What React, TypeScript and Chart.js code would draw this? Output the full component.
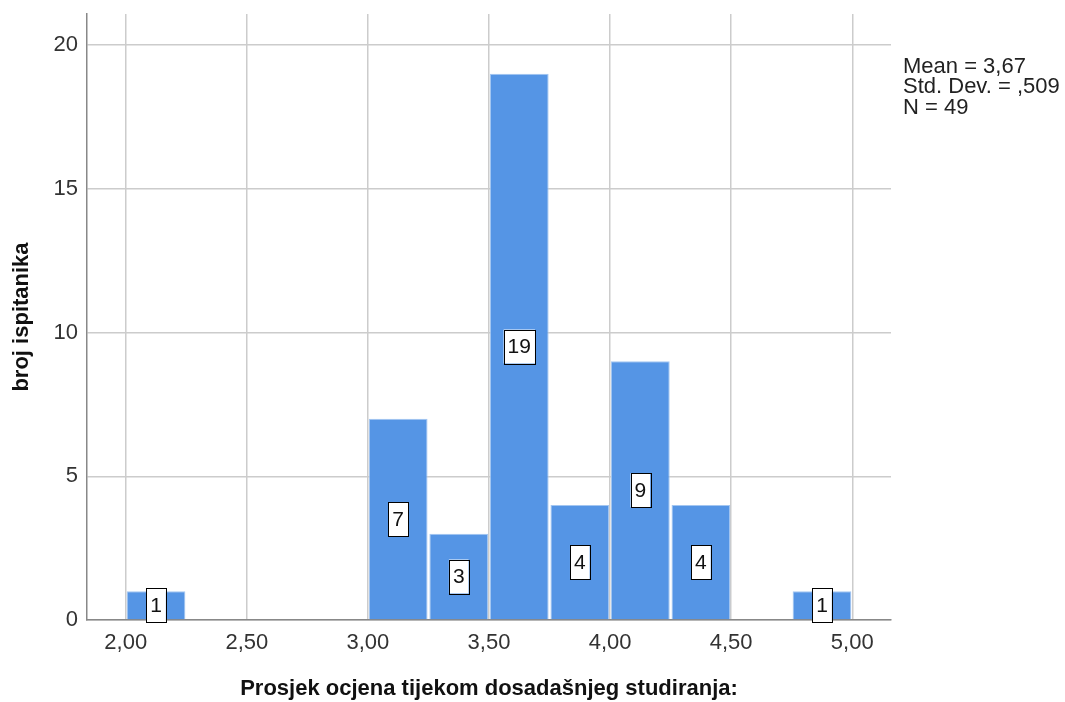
import React, { useEffect, useRef } from "react";
import { Chart, registerables } from "chart.js";

Chart.register(...registerables);

const binStarts = [2.0, 2.25, 2.5, 2.75, 3.0, 3.25, 3.5, 3.75, 4.0, 4.25, 4.5, 4.75];
const binWidth = 0.25;
const counts = [1, 0, 0, 0, 7, 3, 19, 4, 9, 4, 0, 1];
const xTicks = [2.0, 2.5, 3.0, 3.5, 4.0, 4.5, 5.0];
const yTicks = [0, 5, 10, 15, 20];
const statsLines = ["Mean = 3,67", "Std. Dev. = ,509", "N = 49"];
const xTitle = "Prosjek ocjena tijekom dosadašnjeg studiranja:";
const yTitle = "broj ispitanika";

const FONT = "'Liberation Sans', Arial, sans-serif";

const barLabelPlugin = {
  id: "barLabels",
  afterDatasetsDraw(chart: any) {
    const ctx = chart.ctx;
    const meta = chart.getDatasetMeta(0);
    const ds = chart.data.datasets[0];
    ctx.save();
    ctx.font = `21px ${FONT}`;
    ctx.textAlign = "center";
    ctx.textBaseline = "middle";
    meta.data.forEach((el: any, i: number) => {
      const v = ds.data[i].y;
      const txt = String(v);
      const cx = el.x;
      const cy = (el.y + el.base) / 2;
      const w = ctx.measureText(txt).width + 8;
      const h = 34;
      ctx.fillStyle = "#ffffff";
      ctx.fillRect(cx - w / 2, cy - h / 2, w, h);
      ctx.strokeStyle = "#000000";
      ctx.lineWidth = 1;
      ctx.strokeRect(Math.round(cx - w / 2) + 0.5, Math.round(cy - h / 2) + 0.5, Math.round(w), h);
      ctx.fillStyle = "#111111";
      ctx.fillText(txt, cx, cy + 1);
    });
    ctx.restore();
  },
};

const statsPlugin = {
  id: "statsText",
  afterDraw(chart: any) {
    const ctx = chart.ctx;
    const { right, top } = chart.chartArea;
    ctx.save();
    ctx.font = `22px ${FONT}`;
    ctx.fillStyle = "#222222";
    ctx.textAlign = "left";
    ctx.textBaseline = "alphabetic";
    statsLines.forEach((line, i) => {
      ctx.fillText(line, right + 12, top + 58.5 + i * 20.5);
    });
    ctx.restore();
  },
};

export default function App() {
  const ref = useRef<HTMLCanvasElement | null>(null);

  useEffect(() => {
    if (!ref.current) return;
    const points = binStarts
      .map((s, i) => ({ x: s + binWidth / 2, y: counts[i] }))
      .filter((p) => p.y > 0);

    const chart = new Chart(ref.current, {
      type: "bar",
      data: {
        datasets: [
          {
            data: points as any,
            backgroundColor: "#5595e5",
            borderColor: "#a3c6f1",
            borderWidth: 1,
            borderSkipped: "bottom",
            barPercentage: 0.97,
            categoryPercentage: 1,
          },
        ],
      },
      options: {
        animation: false,
        responsive: false,
        devicePixelRatio: 1,
        layout: { padding: { top: 14, right: 174, left: 0, bottom: 0 } },
        plugins: {
          legend: { display: false },
          tooltip: { enabled: false },
        },
        scales: {
          x: {
            type: "linear",
            min: 1.84,
            max: 5.16,
            offset: false,
            afterBuildTicks: (scale: any) => {
              scale.ticks = xTicks.map((v) => ({ value: v }));
            },
            afterFit: (scale: any) => {
              scale.height = 82;
              scale.paddingLeft = 0;
              scale.paddingRight = 0;
            },
            grid: { color: "#cccccc", lineWidth: 1.5, drawTicks: false, offset: false },
            border: { display: true, color: "#888888", width: 1.5 },
            ticks: {
              padding: 10,
              color: "#333333",
              font: { family: FONT, size: 22 },
              callback: (v: any) => Number(v).toFixed(2).replace(".", ","),
            },
            title: {
              display: true,
              text: xTitle,
              color: "#111111",
              font: { family: FONT, size: 22, weight: "bold", lineHeight: 1.1 },
              padding: { top: 0, bottom: 1 },
            },
          },
          y: {
            type: "linear",
            min: 0,
            max: 21.08,
            afterBuildTicks: (scale: any) => {
              scale.ticks = yTicks.map((v) => ({ value: v }));
            },
            afterFit: (scale: any) => {
              scale.width = 87;
              scale.paddingTop = 0;
              scale.paddingBottom = 0;
            },
            grid: { color: "#cccccc", lineWidth: 1.5, drawTicks: false },
            border: { display: true, color: "#888888", width: 1.5 },
            ticks: {
              padding: 9,
              color: "#333333",
              font: { family: FONT, size: 22 },
            },
            title: {
              display: true,
              text: yTitle,
              color: "#111111",
              font: { family: FONT, size: 22, weight: "bold", lineHeight: 1.1 },
              padding: { top: 10, bottom: 0 },
            },
          },
        },
      } as any,
      plugins: [barLabelPlugin, statsPlugin],
    });
    return () => chart.destroy();
  }, []);

  return (
    <div style={{ position: "fixed", left: 0, top: 0, width: 1065, height: 702, background: "#ffffff" }}>
      <canvas ref={ref} width={1065} height={702} style={{ display: "block", width: 1065, height: 702 }} />
    </div>
  );
}
